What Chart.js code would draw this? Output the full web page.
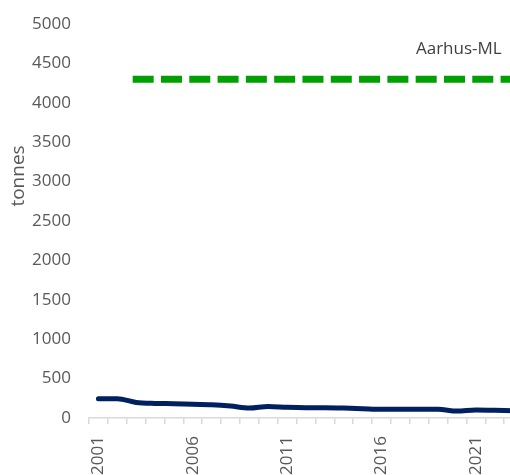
<!DOCTYPE html>
<html>
<head>
<meta charset="utf-8">
<script src="https://cdn.jsdelivr.net/npm/chart.js@4/dist/chart.umd.min.js"></script>
<style>
  html, body { margin: 0; padding: 0; background: #fff; overflow: hidden; }
  #wrap { width: 510px; height: 475px; overflow: hidden; position: relative; }
  #myChart { display: block; }
</style>
</head>
<body>
<div id="wrap"><canvas id="myChart" width="523" height="475"></canvas></div>
<script>
  // years on the x axis (the last one is cut off at the right edge)
  var years = ["2001", "2002", "2003", "2004", "2005", "2006", "2007", "2008", "2009", "2010", "2011", "2012",
               "2013", "2014", "2015", "2016", "2017", "2018", "2019", "2020", "2021", "2022", "2023"];
  // emissions, tonnes
  var emissions = [245, 245, 198, 185, 181, 173, 168, 152, 126, 147, 135, 130,
                   130, 126, 118, 110, 110, 110, 110, 88, 101, 97, 93];
  // Aarhus-ML ceiling
  var aarhusML = [null, null, 4300, 4300, 4300, 4300, 4300, 4300, 4300, 4300, 4300, 4300,
                  4300, 4300, 4300, 4300, 4300, 4300, 4300, 4300, 4300, 4300, 4300];
  var yTicks = [0, 500, 1000, 1500, 2000, 2500, 3000, 3500, 4000, 4500, 5000];

  var fontFamily = "'Open Sans', sans-serif";

  // y axis title and the series label
  var textPlugin = {
    id: 'texts',
    afterDraw: function(chart) {
      var ctx = chart.ctx;
      ctx.save();
      ctx.fillStyle = '#595959';
      ctx.font = "19px " + fontFamily;
      ctx.textAlign = 'center';
      ctx.textBaseline = 'middle';
      ctx.translate(19, 176);
      ctx.rotate(-Math.PI / 2);
      ctx.fillText('tonnes', 0, 0);
      ctx.restore();

      var xs = chart.scales.x, ys = chart.scales.y;
      ctx.save();
      ctx.fillStyle = '#404040';
      ctx.font = "17px " + fontFamily;
      ctx.textAlign = 'right';
      ctx.textBaseline = 'middle';
      ctx.fillText('Aarhus-ML', xs.getPixelForValue(21) + 7, ys.getPixelForValue(4300) - 30);
      ctx.restore();
    }
  };

  var ctx = document.getElementById('myChart').getContext('2d');
  var chart = new Chart(ctx, {
      type: 'line',
      data: {
          labels: years,
          datasets: [{
              label: 'Emissions',
              data: emissions,
              borderColor: '#002060',
              backgroundColor: '#002060',
              borderWidth: 5,
              pointRadius: 0,
              cubicInterpolationMode: 'monotone',
              borderCapStyle: 'round',
              borderJoinStyle: 'round'
          }, {
              label: 'Aarhus-ML',
              data: aarhusML,
              borderColor: '#00A000',
              backgroundColor: '#00A000',
              borderWidth: 7,
              borderDash: [14, 14.3],
              borderCapStyle: 'square',
              pointRadius: 0,
              spanGaps: false
          }]
      },
      options: {
          responsive: false,
          animation: false,
          layout: { padding: { left: 0, right: 0, top: 24, bottom: 0 } },
          plugins: {
              legend: { display: false },
              tooltip: { enabled: false }
          },
          scales: {
              x: {
                  offset: true,
                  afterFit: function(s) {
                      s.height = 57;
                      s.paddingLeft = 0;
                      s.paddingRight = 0;
                  },
                  grid: {
                      offset: true,
                      drawOnChartArea: false,
                      drawTicks: true,
                      tickLength: 6,
                      color: '#d9d9d9',
                      lineWidth: 1.5
                  },
                  border: { display: true, color: '#d9d9d9', width: 1.5 },
                  ticks: {
                      autoSkip: false,
                      maxRotation: 90,
                      minRotation: 90,
                      padding: 12,
                      color: '#595959',
                      font: { family: fontFamily, size: 17 },
                      callback: function(v, i) {
                          var y = parseInt(years[i], 10);
                          return (y - 2001) % 5 === 0 ? years[i] : '';
                      }
                  }
              },
              y: {
                  min: 0,
                  max: 5000,
                  afterFit: function(s) {
                      s.width = 89;
                      s.paddingTop = 0;
                      s.paddingBottom = 0;
                  },
                  afterBuildTicks: function(s) {
                      s.ticks = yTicks.map(function(v) { return { value: v }; });
                  },
                  grid: { display: false, drawTicks: false },
                  border: { display: false },
                  ticks: {
                      padding: 18,
                      color: '#595959',
                      font: { family: fontFamily, size: 17 },
                      callback: function(v) { return String(v); }
                  }
              }
          }
      },
      plugins: [textPlugin]
  });
</script>
</body>
</html>
